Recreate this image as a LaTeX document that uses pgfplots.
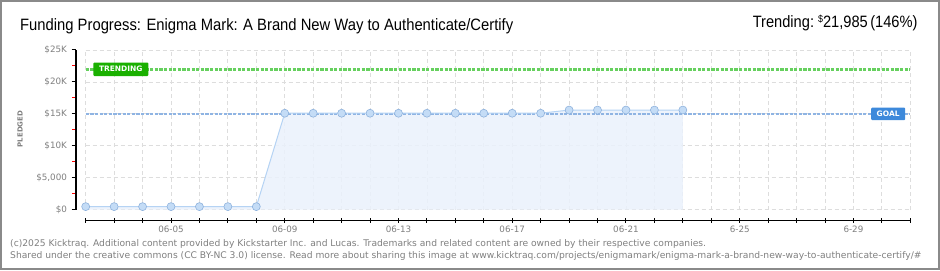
\documentclass[border=0pt]{standalone}
\usepackage{fontspec}
\setmainfont{DejaVu Sans}
\newfontfamily\titlefont{Liberation Sans}
\usepackage{pgfplots}
\pgfplotsset{compat=1.18}
\definecolor{bordergray}{HTML}{8A8A8A}
\definecolor{gridgray}{HTML}{DDDDDD}
\definecolor{goalblue}{HTML}{8FB4E3}
\definecolor{trendgreen}{HTML}{66D05E}
\definecolor{trendbox}{HTML}{1AB000}
\definecolor{goalbox}{HTML}{3D89DB}
\definecolor{areafill}{HTML}{EAF2FC}
\definecolor{lineblue}{HTML}{B5D3F4}
\definecolor{markfill}{HTML}{C4DCF6}
\definecolor{markdraw}{HTML}{8EB2DD}
\definecolor{labelgray}{HTML}{808080}
\begin{document}
\begin{tikzpicture}[x=1bp,y=1bp]
\path[use as bounding box] (0,0) rectangle (940,270);
\clip (0,0) rectangle (940,270);
\fill[white] (0,0) rectangle (940,270);
\begin{axis}[
  at={(85.7bp,60.3bp)}, anchor=south west,
  scale only axis, width=824.6bp, height=159.7bp,
  xmin=2, xmax=31, ymin=0, ymax=25000,
  scaled y ticks=false,
  axis x line*=bottom, axis y line*=left,
  axis x line shift=11bp, axis y line shift=9.7bp,
  axis line style={black, line width=1.2bp, -},
  xtick={2,...,31},
  xticklabels={,,,06-05,,,,06-09,,,,06-13,,,,06-17,,,,06-21,,,,6-25,,,,6-29,,},
  ytick={0,5000,10000,15000,20000,25000},
  yticklabels={\$0,{\$5,000},\$10K,\$15K,\$20K,\$25K},
  minor ytick={2500,7500,12500,17500,22500},
  major tick length=4.5bp, minor tick length=4bp,
  xtick align=center, ytick align=outside,
  tick style={black, line width=1bp},
  minor tick style={red, line width=1bp},
  xmajorgrids, ymajorgrids,
  major grid style={gridgray, line width=0.8bp, dash pattern=on 4bp off 3bp},
  tick label style={labelgray, font=\fontsize{8.8}{10}\selectfont},
  yticklabel style={xshift=-1bp},
  clip=false,
]
\addplot[draw=none, fill=areafill, fill opacity=0.85] coordinates {
 (2,480) (3,480) (4,480) (5,480) (6,480) (7,480) (8,480)
 (9,15100) (10,15100) (11,15100) (12,15100) (13,15100) (14,15100) (15,15100) (16,15100) (17,15100) (18,15100)
 (19,15600) (20,15600) (21,15600) (22,15600) (23,15600)} \closedcycle;
\addplot[goalblue, line width=2.6bp, dash pattern=on 3.2bp off 1.4bp] coordinates {(2,15000) (31,15000)};
\addplot[trendgreen, line width=2.6bp, dash pattern=on 3.2bp off 1.4bp] coordinates {(2,21985) (31,21985)};
\addplot[lineblue, line width=1bp, mark=*, mark size=4bp,
  mark options={fill=markfill, draw=markdraw, line width=0.6bp}] coordinates {
 (2,480) (3,480) (4,480) (5,480) (6,480) (7,480) (8,480)
 (9,15100) (10,15100) (11,15100) (12,15100) (13,15100) (14,15100) (15,15100) (16,15100) (17,15100) (18,15100)
 (19,15600) (20,15600) (21,15600) (22,15600) (23,15600)};
\node[fill=trendbox, text=white, inner sep=0pt, minimum width=55bp, minimum height=13.5bp,
  rounded corners=1bp, font=\bfseries\fontsize{7.5}{8}\selectfont]
  at (axis cs:3.235,21985) {TRENDING};
\node[fill=goalbox, text=white, inner sep=0pt, minimum width=34bp, minimum height=12.5bp,
  rounded corners=1bp, font=\bfseries\fontsize{7.5}{8}\selectfont]
  at (axis cs:30.22,15000) {GOAL};
\end{axis}
\node[anchor=base west, inner sep=0pt] at (20,240)
  {\resizebox{493bp}{\height}{\titlefont\fontsize{16.5}{18}\selectfont Funding Progress: Enigma Mark: A Brand New Way to Authenticate/Certify}};
\node[anchor=base east, inner sep=0pt] at (917.7,242.7)
  {\resizebox{164.7bp}{\height}{\titlefont\fontsize{16.5}{18}\selectfont Trending:\ \raisebox{5bp}{\fontsize{10}{11}\selectfont\$}21,985\,(146\%)}};
\node[rotate=90, text=labelgray, font=\bfseries\fontsize{7}{8}\selectfont, inner sep=0pt] at (20,141) {PLEDGED};
\node[anchor=base west, inner sep=0pt, text=labelgray, font=\fontsize{9.2}{10}\selectfont] at (10,24)
  {(c)2025 Kicktraq. Additional content provided by Kickstarter Inc. and Lucas. Trademarks and related content are owned by their respective companies.};
\node[anchor=base west, inner sep=0pt, text=labelgray, font=\fontsize{9.2}{10}\selectfont] at (10,11.5)
  {Shared under the creative commons (CC BY-NC 3.0) license. Read more about sharing this image at www.kicktraq.com/projects/enigmamark/enigma-mark-a-brand-new-way-to-authenticate-certify/\#};
\draw[bordergray, line width=2bp] (1,1) rectangle (939,269);
\end{tikzpicture}
\end{document}
